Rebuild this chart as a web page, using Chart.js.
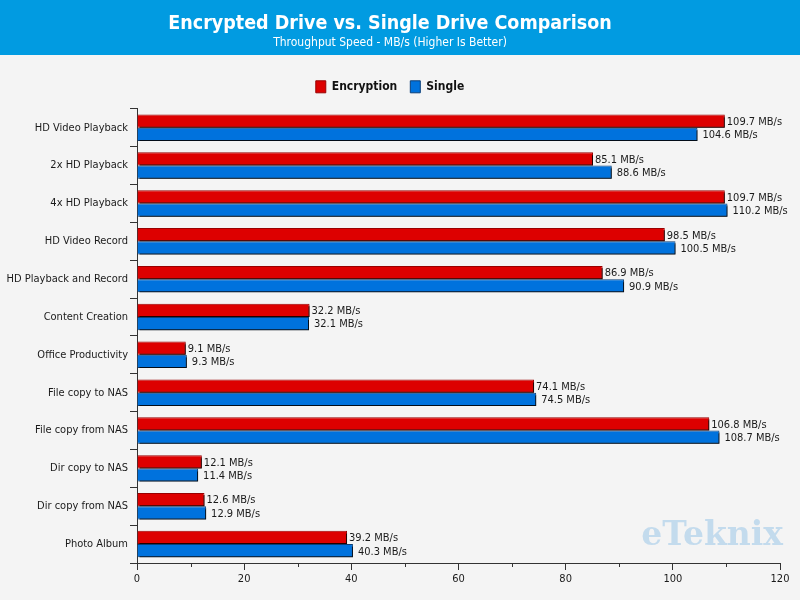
<!DOCTYPE html>
<html>
<head>
<meta charset="utf-8">
<title>Encrypted Drive vs. Single Drive Comparison</title>
<script src="https://cdn.jsdelivr.net/npm/chart.js@4/dist/chart.umd.min.js"></script>
<style>
    html, body { margin: 0; padding: 0; background: #f4f4f4; }
    #wrap { width: 800px; height: 600px; position: relative; }
</style>
</head>
<body>
<div id="wrap"><canvas id="chart" width="800" height="600"></canvas></div>
<script>
// Chart data
const tests = ['HD Video Playback', '2x HD Playback', '4x HD Playback', 'HD Video Record',
    'HD Playback and Record', 'Content Creation', 'Office Productivity', 'File copy to NAS',
    'File copy from NAS', 'Dir copy to NAS', 'Dir copy from NAS', 'Photo Album'];
const encryption = [109.7, 85.1, 109.7, 98.5, 86.9, 32.2, 9.1, 74.1, 106.8, 12.1, 12.6, 39.2];
const single = [104.6, 88.6, 110.2, 100.5, 90.9, 32.1, 9.3, 74.5, 108.7, 11.4, 12.9, 40.3];
const xTicks = [0, 20, 40, 60, 80, 100, 120];
const minorTicks = [10, 30, 50, 70, 90, 110];

const FONT = '"DejaVu Sans Condensed", "Liberation Sans", sans-serif';
const axisColor = '#333333';

// Blue header band + watermark
const backdrop = {
    id: 'backdrop',
    beforeDraw(chart) {
        const ctx = chart.ctx;
        ctx.save();
        ctx.fillStyle = '#f4f4f4';
        ctx.fillRect(0, 0, chart.width, chart.height);
        ctx.fillStyle = '#019be1';
        ctx.fillRect(0, 0, chart.width, 55);
        ctx.restore();
    },
    afterDraw(chart) {
        const ctx = chart.ctx;
        ctx.save();
        ctx.font = 'bold 33px "DejaVu Serif", serif';
        ctx.fillStyle = 'rgba(0, 120, 210, 0.2)';
        ctx.textAlign = 'right';
        ctx.textBaseline = 'middle';
        ctx.fillText('eTeknix', 783, 536);
        ctx.restore();
    }
};

// Drop shadow under the bars
const barShadow = {
    id: 'barShadow',
    beforeDatasetsDraw(chart) {
        const ctx = chart.ctx;
        ctx.save();
        ctx.shadowColor = 'rgba(0, 0, 0, 0.8)';
        ctx.shadowOffsetX = 2;
        ctx.shadowOffsetY = 2;
        ctx.shadowBlur = 0;
    },
    afterDatasetsDraw(chart) {
        chart.ctx.restore();
    }
};

// Value labels at the end of each bar
const valueLabels = {
    id: 'valueLabels',
    afterDatasetsDraw(chart) {
        const ctx = chart.ctx;
        ctx.save();
        ctx.font = '11px ' + FONT;
        ctx.fillStyle = '#1a1a1a';
        ctx.textBaseline = 'middle';
        chart.data.datasets.forEach((ds, i) => {
            const meta = chart.getDatasetMeta(i);
            meta.data.forEach((bar, j) => {
                const gap = i === 0 ? 2 : 5;
                ctx.fillText(ds.data[j].toFixed(1) + ' MB/s', bar.x + gap, bar.y + 1);
            });
        });
        ctx.restore();
    }
};

// Short minor ticks on the value axis
const minorTickMarks = {
    id: 'minorTickMarks',
    afterDraw(chart) {
        const ctx = chart.ctx;
        const x = chart.scales.x;
        ctx.save();
        ctx.strokeStyle = axisColor;
        ctx.lineWidth = 1;
        minorTicks.forEach(v => {
            const px = Math.round(x.getPixelForValue(v)) + 0.5;
            ctx.beginPath();
            ctx.moveTo(px, x.top);
            ctx.lineTo(px, x.top + 4);
            ctx.stroke();
        });
        ctx.restore();
    }
};

new Chart(document.getElementById('chart'), {
    type: 'bar',
    data: {
        labels: tests,
        datasets: [{
            label: 'Encryption',
            data: encryption,
            backgroundColor: '#dd0000',
            borderColor: '#990000',
            borderWidth: 1,
            categoryPercentage: 0.7,
            barPercentage: 1.0
        }, {
            label: 'Single',
            data: single,
            backgroundColor: '#0072dd',
            borderColor: '#0a3f78',
            borderWidth: 1,
            categoryPercentage: 0.7,
            barPercentage: 1.0
        }]
    },
    options: {
        indexAxis: 'y',
        responsive: false,
        animation: false,
        layout: { padding: { left: 0, right: 20, top: 0, bottom: 0 } },
        plugins: {
            title: {
                display: true,
                text: 'Encrypted Drive vs. Single Drive Comparison',
                color: '#ffffff',
                font: { family: FONT, size: 19.5, weight: 'bold' },
                padding: { top: 12, bottom: 0 }
            },
            subtitle: {
                display: true,
                text: 'Throughput Speed - MB/s (Higher Is Better)',
                color: '#ffffff',
                font: { family: FONT, size: 12 },
                padding: { top: 0, bottom: 18 }
            },
            legend: {
                labels: {
                    color: '#111111',
                    font: { family: FONT, size: 12, weight: 'bold' },
                    boxWidth: 10,
                    boxHeight: 12,
                    padding: 13
                }
            },
            tooltip: { enabled: false }
        },
        scales: {
            x: {
                min: 0,
                max: 120,
                afterBuildTicks(scale) {
                    scale.ticks = xTicks.map(v => ({ value: v }));
                },
                border: { color: axisColor, width: 1 },
                grid: { drawOnChartArea: false, color: axisColor, tickLength: 7 },
                ticks: { color: '#1a1a1a', font: { family: FONT, size: 11 }, padding: 3 },
                afterFit(scale) { scale.height = 37; }
            },
            // empty spacer axis: gap between legend and plot
            gap: {
                type: 'linear',
                position: 'top',
                axis: 'x',
                border: { display: false },
                grid: { display: false },
                ticks: { display: false },
                afterFit(scale) { scale.height = 6; }
            },
            y: {
                border: { color: axisColor, width: 1 },
                grid: { drawOnChartArea: false, color: axisColor, tickLength: 7, offset: true },
                ticks: { color: '#1a1a1a', font: { family: FONT, size: 11 }, padding: 2 },
                afterFit(scale) { scale.width = 137; }
            }
        }
    },
    plugins: [backdrop, barShadow, valueLabels, minorTickMarks]
});
</script>
</body>
</html>
